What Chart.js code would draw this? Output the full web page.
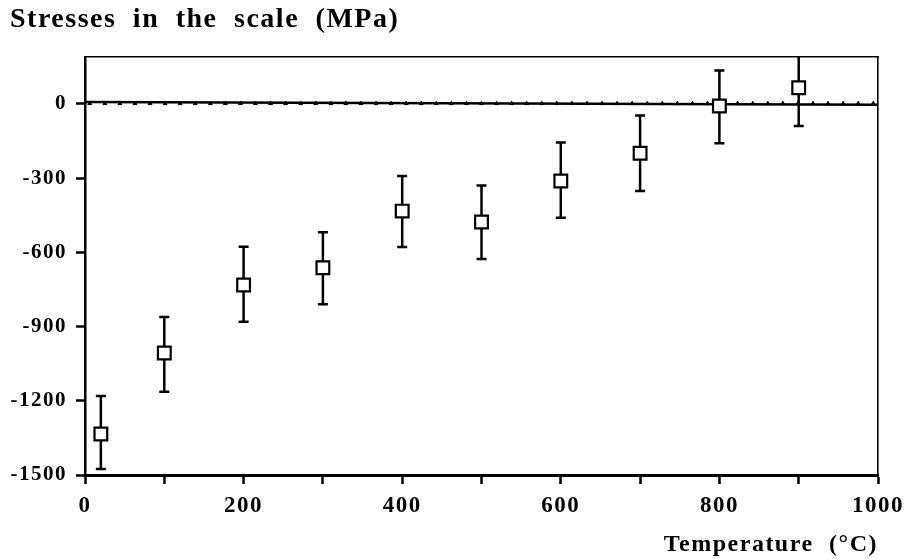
<!DOCTYPE html>
<html><head><meta charset="utf-8">
<script src="https://cdn.jsdelivr.net/npm/chart.js@4"></script>
<style>html,body{margin:0;padding:0;background:#fff}#wrap{width:914px;height:559px;position:relative}</style>
</head><body><div id="wrap"><canvas id="c"></canvas></div>
<script>
// ---- data ----
const temperatures = [20, 100, 200, 300, 400, 500, 600, 700, 800, 900];
const stress       = [-1334, -1007, -732, -662, -433, -477, -311, -199, -8, 66];
const stressUpper  = [-1181, -861, -577, -519, -291, -330, -156, -47, 135, 221];
const stressLower  = [-1476, -1163, -880, -810, -578, -627, -460, -352, -159, -89];
const zeroLineX = [0, 1000];
const zeroLineY = [8, -3];
const markerX = [6,25,44,63,82,101,120,139,158,177,196,215,234,253,272,291,310,329,348,367,386,405,424,443,462,481,500,519,538,557,576,595,614,633,652,671,690,709,728,747,766,785,804,823,842,861,880,899,918,937,956,975,994];
const markerLevel = 2;
const xTickMarks = [0,100,200,300,400,500,600,700,800,900,1000];
const xTickLabels = [0,200,400,600,800,1000];
const yTickLabels = [0,-300,-600,-900,-1200,-1500];

const FONT = 'Liberation Serif';

const errorBars = {
  id: 'errorBars',
  beforeDatasetsDraw(chart) {
    const {ctx, chartArea: a, scales: {x, y}} = chart;
    ctx.save();
    ctx.beginPath();
    ctx.rect(a.left, a.top, a.right - a.left, a.bottom - a.top);
    ctx.clip();
    ctx.strokeStyle = '#000';
    ctx.lineWidth = 2.5;
    temperatures.forEach((t, i) => {
      const px = x.getPixelForValue(t);
      const yt = y.getPixelForValue(stressUpper[i]);
      const yb = y.getPixelForValue(stressLower[i]);
      ctx.beginPath();
      ctx.moveTo(px, yt); ctx.lineTo(px, yb);
      ctx.moveTo(px - 5, yt); ctx.lineTo(px + 5, yt);
      ctx.moveTo(px - 5, yb); ctx.lineTo(px + 5, yb);
      ctx.stroke();
    });
    ctx.restore();
  }
};

const textSpacing = {
  id: 'textSpacing',
  beforeUpdate(c) { c.ctx.letterSpacing = '1.5px'; c.ctx.wordSpacing = '8px'; },
  beforeDraw(c) { c.ctx.letterSpacing = '1.5px'; c.ctx.wordSpacing = '8px'; }
};

new Chart(document.getElementById('c'), {
  type: 'scatter',
  data: {
    datasets: [
      {
        data: temperatures.map((t, i) => ({x: t, y: stress[i]})),
        pointStyle: 'rect', pointRadius: 9, pointHoverRadius: 9,
        backgroundColor: '#fff', borderColor: '#000', borderWidth: 2.2,
        showLine: false
      },
      {
        data: markerX.map(v => ({x: v, y: markerLevel})),
        pointStyle: 'triangle', pointRadius: 2.2,
        backgroundColor: '#000', borderColor: '#000', borderWidth: 1,
        showLine: false
      },
      {
        data: zeroLineX.map((v, i) => ({x: v, y: zeroLineY[i]})),
        showLine: true, pointRadius: 0, borderColor: '#000', borderWidth: 2.4
      }
    ]
  },
  options: {
    responsive: true, maintainAspectRatio: false, animation: false,
    layout: {padding: {left: 10, right: 0, top: 0, bottom: 0}},
    plugins: {
      legend: {display: false},
      tooltip: {enabled: false},
      title: {
        display: true, text: 'Stresses in the scale (MPa)', align: 'start',
        color: '#000', font: {family: FONT, weight: 'bold', size: 28, lineHeight: 1.2},
        padding: {top: 3, bottom: 0}
      }
    },
    scales: {
      x: {
        type: 'linear', position: 'bottom', min: 0, max: 1000,
        afterBuildTicks: s => { s.ticks = xTickMarks.map(v => ({value: v})); },
        ticks: {
          autoSkip: false, maxRotation: 0, color: '#000', padding: 8,
          callback: v => xTickLabels.includes(v) ? String(v) : '',
          font: {family: FONT, weight: 'bold', size: 23}
        },
        grid: {drawOnChartArea: false, drawTicks: true, tickLength: 9, tickWidth: 2.5, color: '#000'},
        border: {display: true, color: '#000', width: 3},
        title: {
          display: true, text: 'Temperature (°C)', align: 'end', color: '#000',
          font: {family: FONT, weight: 'bold', size: 24}, padding: {top: 0, bottom: 0}
        },
        afterFit: s => { s.height = 84; }
      },
      y: {
        type: 'linear', position: 'left', min: -1500, max: 190,
        afterBuildTicks: s => { s.ticks = yTickLabels.map(v => ({value: v})); },
        ticks: {
          color: '#000', padding: 9, callback: v => String(v),
          font: {family: FONT, weight: 'bold', size: 21}
        },
        grid: {drawOnChartArea: false, drawTicks: true, tickLength: 9, tickWidth: 2.5, color: '#000'},
        border: {display: true, color: '#000', width: 2.5},
        afterFit: s => { s.width = 75; }
      },
      x2: {
        type: 'linear', position: 'top', min: 0, max: 1000,
        ticks: {display: false},
        grid: {display: false, drawTicks: false},
        border: {display: true, color: '#000', width: 1.6},
        afterFit: s => { s.height = 20.4; }
      },
      y2: {
        type: 'linear', position: 'right', min: -1500, max: 190,
        ticks: {display: false},
        grid: {display: false, drawTicks: false},
        border: {display: true, color: '#000', width: 1.6},
        afterFit: s => { s.width = 36; }
      }
    }
  },
  plugins: [textSpacing, errorBars]
});
</script>
</body></html>
